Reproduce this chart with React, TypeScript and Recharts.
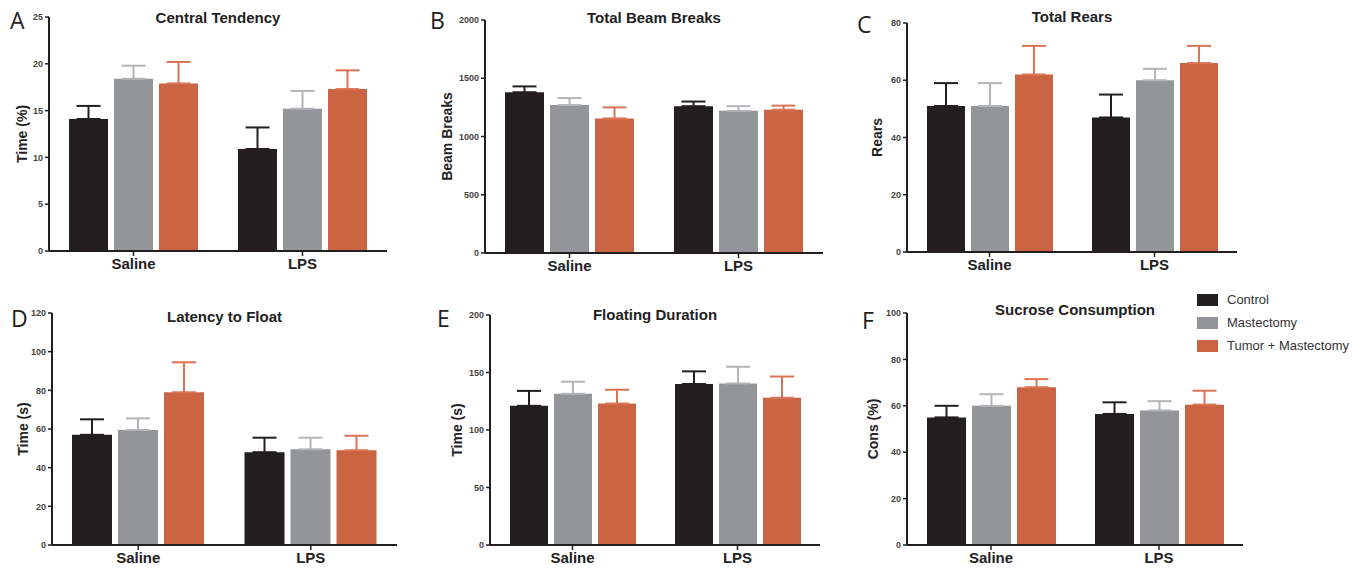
import React from 'react';
import { Bar, BarChart, ErrorBar, XAxis, YAxis } from 'recharts';

// Groups on the x axis
const groups = ['Saline', 'LPS'];

// A - Central Tendency (mean, upper SEM)
const centralControl = [14.1, 10.9];
const centralControlSem = [1.4, 2.3];
const centralMast = [18.4, 15.2];
const centralMastSem = [1.4, 1.9];
const centralTumor = [17.9, 17.3];
const centralTumorSem = [2.3, 2.0];
const centralTicks = [0, 5, 10, 15, 20, 25];

// B - Total Beam Breaks
const beamControl = [1380, 1260];
const beamControlSem = [50, 40];
const beamMast = [1270, 1220];
const beamMastSem = [60, 40];
const beamTumor = [1155, 1230];
const beamTumorSem = [95, 35];
const beamTicks = [0, 500, 1000, 1500, 2000];

// C - Total Rears
const rearsControl = [51, 47];
const rearsControlSem = [8, 8];
const rearsMast = [51, 60];
const rearsMastSem = [8, 4];
const rearsTumor = [62, 66];
const rearsTumorSem = [10, 6];
const rearsTicks = [0, 20, 40, 60, 80];

// D - Latency to Float
const latencyControl = [57, 48];
const latencyControlSem = [8, 7.5];
const latencyMast = [59.5, 49.5];
const latencyMastSem = [6, 6];
const latencyTumor = [79, 49];
const latencyTumorSem = [15.5, 7.5];
const latencyTicks = [0, 20, 40, 60, 80, 100, 120];

// E - Floating Duration
const floatControl = [121, 140];
const floatControlSem = [13, 11];
const floatMast = [131.5, 140.5];
const floatMastSem = [10.5, 14.5];
const floatTumor = [123, 128];
const floatTumorSem = [12, 18.5];
const floatTicks = [0, 50, 100, 150, 200];

// F - Sucrose Consumption
const sucroseControl = [55, 56.5];
const sucroseControlSem = [5, 5];
const sucroseMast = [60, 58];
const sucroseMastSem = [5, 4];
const sucroseTumor = [68, 60.5];
const sucroseTumorSem = [3.5, 6];
const sucroseTicks = [0, 20, 40, 60, 80, 100];

const BLACK = '#231f20';
const GRAY = '#939598';
const GRAY_ERR = '#b3b5b8';
const ORANGE = '#cb6443';
const ORANGE_ERR = '#dc7355';
const FONT = '"Liberation Sans", Arial, sans-serif';

const rows = (
  control: number[], controlSem: number[],
  mast: number[], mastSem: number[],
  tumor: number[], tumorSem: number[]
) =>
  groups.map((g, i) => ({
    group: g,
    control: control[i],
    controlErr: [0, controlSem[i]],
    mast: mast[i],
    mastErr: [0, mastSem[i]],
    tumor: tumor[i],
    tumorErr: [0, tumorSem[i]],
  }));

type PanelProps = {
  letter: string;
  letterX: number;
  letterY: number;
  title: string;
  titleY: number;
  yLabel: string;
  labelGap: number;
  data: any[];
  ticks: number[];
  x: number; // plot left
  y: number; // plot top
  w: number;
  h: number;
};

const AXIS_W = 50;
const PAD_TOP = 8;

const Panel = ({ letter, letterX, letterY, title, titleY, yLabel, labelGap, data, ticks, x, y, w, h }: PanelProps) => {
  const yLabelRender = (props: any) => {
    const vb = props.viewBox || {};
    const cx = vb.x + vb.width - labelGap;
    const cy = vb.y + vb.height / 2;
    return (
      <text
        x={cx}
        y={cy}
        transform={`rotate(-90 ${cx} ${cy})`}
        textAnchor="middle"
        dominantBaseline="central"
        fontSize={14}
        fontWeight="bold"
        fill="#222"
        fontFamily={FONT}
      >
        {yLabel}
      </text>
    );
  };

  return (
    <>
      <div style={{ position: 'absolute', left: letterX, top: letterY, fontFamily: '"Open Sans", sans-serif', fontSize: 23, color: '#222', lineHeight: 1 }}>
        {letter}
      </div>
      <div style={{ position: 'absolute', left: x, width: w, top: titleY - 10, textAlign: 'center', fontFamily: FONT, fontSize: 15, fontWeight: 'bold', color: '#222', lineHeight: '20px' }}>
        {title}
      </div>
      <div style={{ position: 'absolute', left: x - AXIS_W, top: y - PAD_TOP }}>
        <BarChart
          width={w + AXIS_W + 4}
          height={h + PAD_TOP + 30}
          data={data}
          margin={{ top: PAD_TOP, right: 4, left: 0, bottom: 0 }}
          barCategoryGap={20}
          barGap={6}
        >
          <XAxis
            dataKey="group"
            height={30}
            axisLine={{ stroke: BLACK, strokeWidth: 2 }}
            tickLine={{ stroke: BLACK, strokeWidth: 1.5 }}
            tickSize={5}
            tick={{ fontSize: 15, fontWeight: 'bold', fill: '#222', fontFamily: FONT }}
          />
          <YAxis
            width={AXIS_W}
            domain={[0, ticks[ticks.length - 1]]}
            ticks={ticks}
            interval={0}
            axisLine={{ stroke: BLACK, strokeWidth: 2 }}
            tickLine={{ stroke: BLACK, strokeWidth: 1.5 }}
            tickSize={4}
            tick={{ fontSize: 9, fontWeight: 'bold', fill: '#444', fontFamily: FONT }}
            label={yLabelRender}
          />
          <Bar dataKey="control" fill={BLACK} isAnimationActive={false}>
            <ErrorBar dataKey="controlErr" direction="y" width={12} strokeWidth={2} stroke={BLACK} />
          </Bar>
          <Bar dataKey="mast" fill={GRAY} isAnimationActive={false}>
            <ErrorBar dataKey="mastErr" direction="y" width={12} strokeWidth={2} stroke={GRAY_ERR} />
          </Bar>
          <Bar dataKey="tumor" fill={ORANGE} isAnimationActive={false}>
            <ErrorBar dataKey="tumorErr" direction="y" width={12} strokeWidth={2} stroke={ORANGE_ERR} />
          </Bar>
        </BarChart>
      </div>
    </>
  );
};

const legendItems = [
  { name: 'Control', color: BLACK },
  { name: 'Mastectomy', color: GRAY },
  { name: 'Tumor + Mastectomy', color: ORANGE },
];

const App = () => {
  return (
    <div style={{ position: 'absolute', left: 0, top: 0, width: 1368, height: 570, background: '#fff', overflow: 'hidden' }}>
      <Panel letter="A" letterX={10} letterY={9} title="Central Tendency" titleY={18} yLabel="Time (%)" labelGap={27}
        data={rows(centralControl, centralControlSem, centralMast, centralMastSem, centralTumor, centralTumorSem)}
        ticks={centralTicks} x={49} y={17} w={338} h={234} />
      <Panel letter="B" letterX={430} letterY={9} title="Total Beam Breaks" titleY={18} yLabel="Beam Breaks" labelGap={38}
        data={rows(beamControl, beamControlSem, beamMast, beamMastSem, beamTumor, beamTumorSem)}
        ticks={beamTicks} x={485} y={20} w={338} h={233} />
      <Panel letter="C" letterX={857} letterY={13} title="Total Rears" titleY={17} yLabel="Rears" labelGap={30}
        data={rows(rearsControl, rearsControlSem, rearsMast, rearsMastSem, rearsTumor, rearsTumorSem)}
        ticks={rearsTicks} x={907} y={23} w={330} h={229} />
      <Panel letter="D" letterX={11} letterY={307} title="Latency to Float" titleY={317} yLabel="Time (s)" labelGap={29}
        data={rows(latencyControl, latencyControlSem, latencyMast, latencyMastSem, latencyTumor, latencyTumorSem)}
        ticks={latencyTicks} x={52} y={313} w={345} h={232} />
      <Panel letter="E" letterX={437} letterY={307} title="Floating Duration" titleY={315} yLabel="Time (s)" labelGap={33}
        data={rows(floatControl, floatControlSem, floatMast, floatMastSem, floatTumor, floatTumorSem)}
        ticks={floatTicks} x={490} y={315} w={330} h={230} />
      <Panel letter="F" letterX={862} letterY={309} title="Sucrose Consumption" titleY={310} yLabel="Cons (%)" labelGap={34}
        data={rows(sucroseControl, sucroseControlSem, sucroseMast, sucroseMastSem, sucroseTumor, sucroseTumorSem)}
        ticks={sucroseTicks} x={907} y={313} w={336} h={232} />

      {legendItems.map((item, i) => (
        <div key={item.name} style={{ position: 'absolute', left: 1197, top: 292 + i * 23, display: 'flex', alignItems: 'center', fontFamily: FONT, fontSize: 13, color: '#333' }}>
          <div style={{ width: 21, height: 12, background: item.color, marginRight: 9 }} />
          <span>{item.name}</span>
        </div>
      ))}
    </div>
  );
};

export default App;
